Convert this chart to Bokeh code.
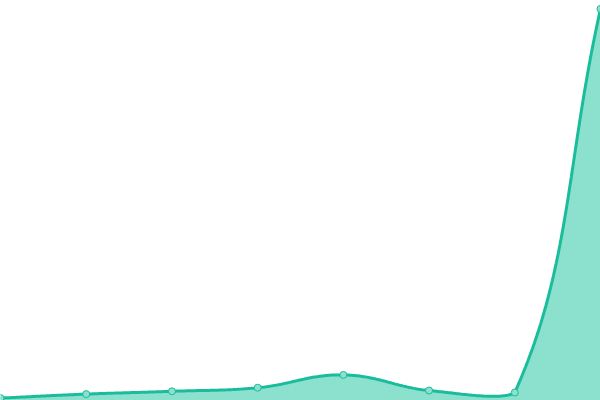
import numpy as np
from bokeh.plotting import figure
from bokeh.models import Range1d
from bokeh.embed import file_html
from bokeh.resources import INLINE

# data
categories = ["1", "2", "3", "4", "5", "6", "7", "8"]
values = [6, 16, 23, 32, 64, 25, 20, 979]
Y_MAX = 1000

W, H = 600, 400
TENSION = 0.4

xs = np.arange(len(values), dtype=float)

p = figure(width=W, height=H, output_backend="svg", toolbar_location=None,
           x_range=Range1d(0, len(values) - 1), y_range=Range1d(0, Y_MAX),
           min_border=0, min_border_left=0, min_border_right=0,
           min_border_top=0, min_border_bottom=0)
p.axis.visible = False
p.grid.visible = False
p.outline_line_color = None
p.background_fill_color = "white"
p.border_fill_color = "white"

# cardinal spline (Chart.js style) computed in screen space
sx = xs * W / (len(values) - 1)
sy = np.array(values, dtype=float) * H / Y_MAX
n = len(values)
cp_prev = np.zeros((n, 2))
cp_next = np.zeros((n, 2))
for i in range(n):
    pr = (sx[max(i - 1, 0)], sy[max(i - 1, 0)])
    cu = (sx[i], sy[i])
    nx = (sx[min(i + 1, n - 1)], sy[min(i + 1, n - 1)])
    d01 = np.hypot(cu[0] - pr[0], cu[1] - pr[1])
    d12 = np.hypot(nx[0] - cu[0], nx[1] - cu[1])
    tot = d01 + d12
    s01 = d01 / tot if tot else 0
    s12 = d12 / tot if tot else 0
    fa, fb = TENSION * s01, TENSION * s12
    cp_prev[i] = (cu[0] - fa * (nx[0] - pr[0]), cu[1] - fa * (nx[1] - pr[1]))
    cp_next[i] = (cu[0] + fb * (nx[0] - pr[0]), cu[1] + fb * (nx[1] - pr[1]))
cp_prev[:, 0] = np.clip(cp_prev[:, 0], 0, W)
cp_prev[:, 1] = np.clip(cp_prev[:, 1], 0, H)
cp_next[:, 0] = np.clip(cp_next[:, 0], 0, W)
cp_next[:, 1] = np.clip(cp_next[:, 1], 0, H)

cx, cy = [], []
t = np.linspace(0, 1, 60)
for i in range(n - 1):
    p0 = np.array([sx[i], sy[i]])
    p1 = cp_next[i]
    p2 = cp_prev[i + 1]
    p3 = np.array([sx[i + 1], sy[i + 1]])
    b = ((1 - t) ** 3)[:, None] * p0 + (3 * (1 - t) ** 2 * t)[:, None] * p1 \
        + (3 * (1 - t) * t ** 2)[:, None] * p2 + (t ** 3)[:, None] * p3
    cx.extend(b[:, 0]); cy.extend(b[:, 1])
cx = np.array(cx) * (len(values) - 1) / W
cy = np.array(cy) * Y_MAX / H

p.varea(x=cx, y1=0, y2=cy, fill_color="#8be0ce", fill_alpha=1)
p.line(x=cx, y=cy, line_color="#1abc9c", line_width=3)
p.scatter(x=xs, y=values, size=7, fill_color="#8be0ce",
          line_color="#1abc9c", line_width=1)

open("out.html", "w").write(file_html(p, INLINE))
